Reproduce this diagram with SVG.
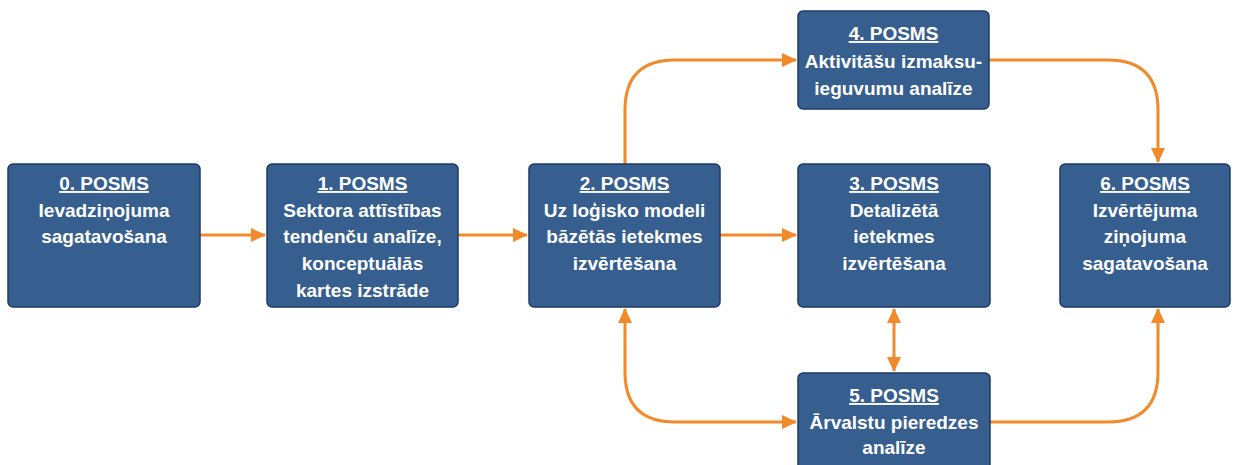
<svg xmlns="http://www.w3.org/2000/svg" width="1239" height="465" viewBox="0 0 1239 465">
<style>
.box{fill:#365E8F;stroke:#1F3A66;stroke-width:1.5}
.t{font-family:"Liberation Sans",Arial,sans-serif;font-weight:bold;font-size:19px;fill:#fff;text-anchor:middle}
.u{text-decoration:underline}
.c{fill:none;stroke:#F28A2B;stroke-width:3}
</style>
<defs>
<marker id="ah" markerUnits="userSpaceOnUse" markerWidth="16" markerHeight="16" refX="14" refY="8" orient="auto-start-reverse">
<path d="M0,1 L15,8 L0,15 Z" fill="#F28A2B"/>
</marker>
</defs>
<g id="connectors">
<path class="c" d="M200,235 H265" marker-end="url(#ah)"/>
<path class="c" d="M458,235 H527" marker-end="url(#ah)"/>
<path class="c" d="M720,235 H796" marker-end="url(#ah)"/>
<path class="c" d="M625,164 V110 Q625,60 675,60 H796" marker-end="url(#ah)"/>
<path class="c" d="M989,60 H1108 Q1158,60 1158,110 V162" marker-end="url(#ah)"/>
<path class="c" d="M625,309 V372 Q625,422 675,422 H796" marker-start="url(#ah)" marker-end="url(#ah)"/>
<path class="c" d="M894,309 V371" marker-start="url(#ah)" marker-end="url(#ah)"/>
<path class="c" d="M990,422 H1108 Q1158,422 1158,372 V309" marker-end="url(#ah)"/>
</g>
<g id="n0"><rect class="box" x="8" y="164" width="192" height="143" rx="5"/>
<text class="t" x="104"><tspan class="u" x="104" y="190">0. POSMS</tspan><tspan x="104" y="217">Ievadziņojuma</tspan><tspan x="104" y="243">sagatavošana</tspan></text></g>
<g id="n1"><rect class="box" x="267" y="164" width="191" height="143" rx="5"/>
<text class="t"><tspan class="u" x="362.5" y="190">1. POSMS</tspan><tspan x="362.5" y="217">Sektora attīstības</tspan><tspan x="362.5" y="243">tendenču analīze,</tspan><tspan x="362.5" y="270">konceptuālās</tspan><tspan x="362.5" y="297">kartes izstrāde</tspan></text></g>
<g id="n2"><rect class="box" x="529" y="164" width="191" height="143" rx="5"/>
<text class="t"><tspan class="u" x="624.5" y="190">2. POSMS</tspan><tspan x="624.5" y="217">Uz loģisko modeli</tspan><tspan x="624.5" y="243">bāzētās ietekmes</tspan><tspan x="624.5" y="270">izvērtēšana</tspan></text></g>
<g id="n3"><rect class="box" x="798" y="164" width="192" height="143" rx="5"/>
<text class="t"><tspan class="u" x="894" y="190">3. POSMS</tspan><tspan x="894" y="217">Detalizētā</tspan><tspan x="894" y="243">ietekmes</tspan><tspan x="894" y="270">izvērtēšana</tspan></text></g>
<g id="n4"><rect class="box" x="798" y="11" width="191" height="98" rx="5"/>
<text class="t"><tspan class="u" x="893.5" y="40">4. POSMS</tspan><tspan x="893.5" y="68">Aktivitāšu izmaksu-</tspan><tspan x="893.5" y="95">ieguvumu analīze</tspan></text></g>
<g id="n5"><rect class="box" x="798" y="373" width="192" height="100" rx="5"/>
<text class="t"><tspan class="u" x="894" y="402">5. POSMS</tspan><tspan x="894" y="429">Ārvalstu pieredzes</tspan><tspan x="894" y="454">analīze</tspan></text></g>
<g id="n6"><rect class="box" x="1060" y="164" width="170" height="143" rx="5"/>
<text class="t"><tspan class="u" x="1145" y="190">6. POSMS</tspan><tspan x="1145" y="217">Izvērtējuma</tspan><tspan x="1145" y="243">ziņojuma</tspan><tspan x="1145" y="270">sagatavošana</tspan></text></g>
</svg>
